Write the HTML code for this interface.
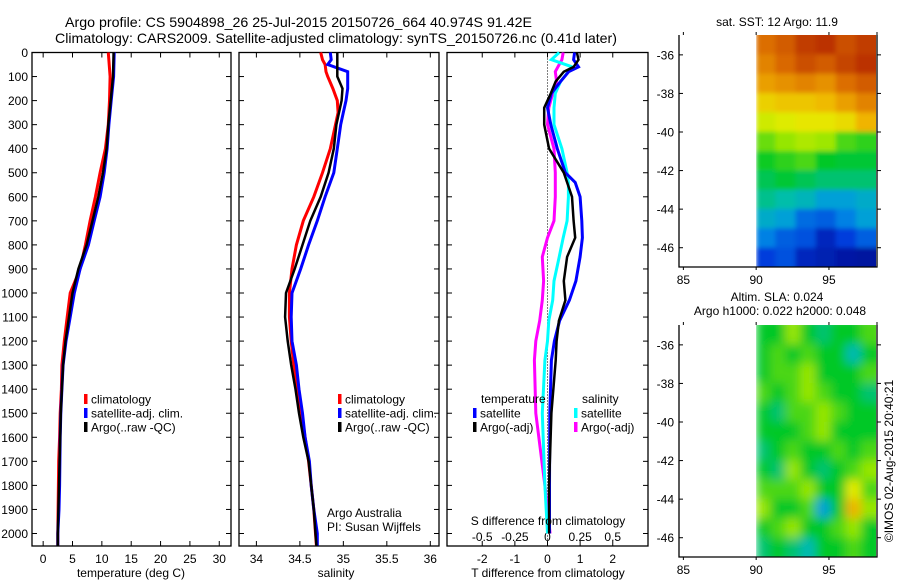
<!DOCTYPE html>
<html><head><meta charset="utf-8"><style>
html,body{margin:0;padding:0;background:#fff}
svg{display:block;font-family:"Liberation Sans",sans-serif}
</style></head><body>
<svg id="fig" width="900" height="580" viewBox="0 0 900 580" xmlns="http://www.w3.org/2000/svg">
<text x="65" y="27" font-size="14" textLength="467" lengthAdjust="spacingAndGlyphs">Argo profile: CS 5904898_26 25-Jul-2015 20150726_664 40.974S 91.42E</text>
<text x="55" y="43" font-size="14" textLength="562" lengthAdjust="spacingAndGlyphs">Climatology: CARS2009. Satellite-adjusted climatology: synTS_20150726.nc (0.41d later)</text>
<g id="plots"></g>
</svg>
<script>
// ---------- data ----------
const depthTicks=[0,100,200,300,400,500,600,700,800,900,1000,1100,1200,1300,1400,1500,1600,1700,1800,1900,2000];
const tempTicks=[0,5,10,15,20,25,30];
const salTicks=[34,34.5,35,35.5,36];
const tdiffTicks=[-2,-1,0,1,2];
const sdiffTicks=[-0.5,-0.25,0,0.25,0.5];
const latTicks=[-36,-38,-40,-42,-44,-46];
const lonTicks=[85,90,95];

const tDepth=[0,100,200,300,400,500,600,700,800,900,1000,1100,1200,1300,1400,1500,1600,1700,1800,1900,2000,2050];
const tClim=[11.1,11.4,11.3,11.1,10.6,9.7,8.9,8.0,7.2,6.3,4.6,4.1,3.6,3.2,3.1,2.9,2.8,2.65,2.6,2.55,2.5,2.5];
const tSat=[12.1,12.0,11.6,11.2,10.9,10.4,9.7,8.7,7.7,6.3,5.3,4.6,3.9,3.4,3.2,3.0,2.9,2.85,2.8,2.7,2.5,2.5];
const tArgo=[12.0,11.9,11.5,11.1,10.8,10.2,9.4,8.4,7.4,6.0,5.0,4.4,3.8,3.4,3.2,3.0,2.9,2.8,2.7,2.6,2.5,2.5];

const sDepth=[0,30,50,80,100,150,200,250,300,400,500,600,700,800,900,1000,1100,1200,1300,1400,1500,1600,1700,1800,1900,2000,2050];
const sClim=[34.74,34.76,34.79,34.80,34.82,34.88,34.93,34.94,34.91,34.85,34.76,34.66,34.54,34.46,34.41,34.38,34.38,34.40,34.43,34.47,34.52,34.56,34.60,34.63,34.66,34.68,34.69];
const sSat=[34.85,34.86,34.82,35.05,35.05,35.05,35.03,35.00,34.97,34.93,34.89,34.79,34.70,34.60,34.51,34.41,34.40,34.41,34.46,34.49,34.53,34.56,34.61,34.63,34.66,34.70,34.70];
const sArgo=[34.93,34.93,34.93,34.93,34.93,34.99,34.98,34.95,34.92,34.89,34.83,34.74,34.62,34.53,34.44,34.34,34.33,34.36,34.40,34.45,34.49,34.54,34.60,34.63,34.66,34.68,34.69];

const dDepth=[0,30,60,80,120,170,230,300,400,500,540,600,700,770,850,950,1030,1115,1200,1280,1500,1800,2000];
const dTSat=[0.83,0.80,0.95,0.65,0.40,0.12,0.0,0.10,0.30,0.55,0.85,1.0,1.05,1.07,1.0,0.87,0.67,0.37,0.21,0.12,0.07,0.06,0.06];
const dTArgo=[0.90,0.95,0.80,0.50,0.25,0.10,-0.10,-0.10,0.05,0.50,0.60,0.75,0.80,0.85,0.60,0.50,0.55,0.35,0.28,0.25,0.12,0.05,0.05];
const dSSat=[0.09,0.03,0.19,0.16,0.10,0.06,0.05,0.05,0.11,0.15,0.16,0.16,0.15,0.12,0.09,0.05,0.04,0.01,0.0,-0.02,-0.04,-0.02,0.0];
const dSArgo=[0.12,0.11,0.08,0.06,0.07,0.04,0.01,0.0,0.05,0.06,0.06,0.06,0.05,0.0,-0.04,-0.03,-0.04,-0.06,-0.09,-0.10,-0.09,-0.02,0.02];

const sstGrid=[
[.85,.88,.93,.95,.90,.93],[.82,.86,.90,.88,.92,.95],[.78,.80,.82,.80,.85,.88],
[.70,.72,.72,.74,.78,.82],[.62,.64,.66,.66,.68,.75],[.52,.55,.58,.56,.50,.48],
[.46,.48,.50,.45,.44,.44],[.42,.44,.42,.40,.40,.40],[.38,.36,.34,.30,.30,.32],
[.32,.30,.22,.20,.25,.30],[.25,.20,.18,.10,.15,.20],[.15,.18,.10,.08,.06,.05]];
const slaGrid=[
[.45,.45,.55,.45,.40,.45,.45,.50],[.45,.50,.45,.50,.45,.45,.35,.45],[.45,.50,.50,.55,.45,.45,.45,.50],
[.50,.45,.50,.55,.50,.45,.45,.40],[.45,.40,.50,.50,.55,.50,.45,.45],[.45,.45,.45,.50,.55,.45,.45,.45],
[.40,.45,.50,.45,.45,.50,.45,.50],[.45,.40,.55,.45,.40,.45,.50,.55],[.50,.50,.50,.55,.45,.45,.65,.50],
[.55,.45,.45,.50,.30,.45,.75,.55],[.45,.50,.55,.45,.45,.50,.55,.45],[.40,.45,.40,.35,.45,.45,.50,.45]];

// ---------- helpers ----------
const NS="http://www.w3.org/2000/svg";
const root=document.getElementById('plots');
function mk(tag,attrs,parent){const e=document.createElementNS(NS,tag);for(const k in attrs)e.setAttribute(k,attrs[k]);(parent||root).appendChild(e);return e;}
function txt(x,y,s,size,anchor,parent){const t=mk('text',{x:x,y:y,'font-size':size,'text-anchor':anchor||'start'},parent);t.textContent=s;return t;}

const yTop=52.5, yBot=546, dMax=2052;
const yD=d=>yTop+d/dMax*(yBot-yTop);
function lin(d0,d1,r0,r1){return v=>r0+(v-d0)/(d1-d0)*(r1-r0);}

function frame(x0,x1,y0,y1,name){
  const r=mk('rect',{x:x0,y:y0,width:x1-x0,height:y1-y0,fill:'none',stroke:'#000','stroke-width':1.3});
  
  
}
function depthTicksFor(x0,x1,labels){
  depthTicks.forEach(d=>{const y=yD(d);
    mk('line',{x1:x0,y1:y,x2:x0+5,y2:y,stroke:'#000'});
    mk('line',{x1:x1,y1:y,x2:x1-5,y2:y,stroke:'#000'});
    if(labels){const t=txt(x0-4,y+4.5,String(d),12,'end');
      
      }
  });
}
function stepLine(xs,ds,xf,color,w,name){
  let p='';
  for(let i=0;i<xs.length;i++){const x=xf(xs[i]),y=yD(ds[i]);p+=(i?'L':'M')+x.toFixed(1)+' '+y.toFixed(1);}
  const e=mk('path',{d:p,fill:'none',stroke:color,'stroke-width':w,'stroke-linejoin':'miter'});
  
  
}
function legendEntry(x,y,color,label,name){
  const g=mk('g',{});
  
  
  mk('rect',{x:x,y:y-5,width:3.5,height:10,fill:color},g);
  txt(x+7,y+4.5,label,12,'start',g);
}

// ---------- panel 1: temperature ----------
const p1={x0:32,x1:231};
const xT=lin(-1.9,32,p1.x0,p1.x1);
frame(p1.x0,p1.x1,yTop,yBot,'temperature-axes');
depthTicksFor(p1.x0,p1.x1,true);
tempTicks.forEach(v=>{const x=xT(v);mk('line',{x1:x,y1:yTop,x2:x,y2:yTop+5,stroke:'#000'});mk('line',{x1:x,y1:yBot,x2:x,y2:yBot-5,stroke:'#000'});
  const t=txt(x,563,String(v),12,'middle');});
{const t=txt(131,577,'temperature (deg C)',12,'middle');}
stepLine(tClim,tDepth,xT,'#ff0000',3,'temperature-climatology-line');
stepLine(tSat,tDepth,xT,'#0000ff',3,'temperature-satellite-line');
stepLine(tArgo,tDepth,xT,'#000000',2.5,'temperature-argo-line');
legendEntry(84,399,'#ff0000','climatology','legend-climatology');
legendEntry(84,413,'#0000ff','satellite-adj. clim.','legend-satellite-adj');
legendEntry(84,427,'#000000','Argo(..raw -QC)','legend-argo');

// ---------- panel 2: salinity ----------
const p2={x0:239,x1:439};
const xS=lin(33.8,36.1,p2.x0,p2.x1);
frame(p2.x0,p2.x1,yTop,yBot,'salinity-axes');
depthTicksFor(p2.x0,p2.x1,false);
salTicks.forEach(v=>{const x=xS(v);mk('line',{x1:x,y1:yTop,x2:x,y2:yTop+5,stroke:'#000'});mk('line',{x1:x,y1:yBot,x2:x,y2:yBot-5,stroke:'#000'});
  const t=txt(x,563,String(v),12,'middle');});
{const t=txt(336,577,'salinity',12,'middle');}
stepLine(sClim,sDepth,xS,'#ff0000',3,'salinity-climatology-line');
stepLine(sSat,sDepth,xS,'#0000ff',3,'salinity-satellite-line');
stepLine(sArgo,sDepth,xS,'#000000',2.5,'salinity-argo-line');
legendEntry(338,399,'#ff0000','climatology','legend-climatology-2');
legendEntry(338,413,'#0000ff','satellite-adj. clim.','legend-satellite-adj-2');
legendEntry(338,427,'#000000','Argo(..raw -QC)','legend-argo-2');
{const t=txt(327,517,'Argo Australia',12);
 const t2=txt(327,531,'PI: Susan Wijffels',12);}

// ---------- panel 3: differences ----------
const p3={x0:447,x1:648};
const xDT=lin(-3.08,3.08,p3.x0,p3.x1);
const xDS=v=>xDT(v*4);
frame(p3.x0,p3.x1,yTop,yBot,'difference-axes');
depthTicksFor(p3.x0,p3.x1,false);
tdiffTicks.forEach(v=>{const x=xDT(v);mk('line',{x1:x,y1:yTop,x2:x,y2:yTop+5,stroke:'#000'});mk('line',{x1:x,y1:yBot,x2:x,y2:yBot-5,stroke:'#000'});
  const t=txt(x,563,String(v),12,'middle');});
sdiffTicks.forEach(v=>{const t=txt(xDS(v),541,String(v),12,'middle');});
mk('line',{x1:xDT(0),y1:yTop,x2:xDT(0),y2:yBot,stroke:'#000','stroke-dasharray':'1,2'});
stepLine(dSArgo,dDepth,xDS,'#ff00ff',3,'sdiff-argo-line');
stepLine(dSSat,dDepth,xDS,'#00ffff',3,'sdiff-satellite-line');
stepLine(dTSat,dDepth,xDT,'#0000ff',3,'tdiff-satellite-line');
stepLine(dTArgo,dDepth,xDT,'#000000',2.5,'tdiff-argo-line');
{const t=txt(548,525,'S difference from climatology',12,'middle');
 const t2=txt(548,577,'T difference from climatology',12,'middle');
 const t3=txt(481,403,'temperature',12);
 const t4=txt(582,403,'salinity',12);}
legendEntry(473,413,'#0000ff','satellite','legend-t-satellite');
legendEntry(473,427,'#000000','Argo(-adj)','legend-t-argo');
legendEntry(574,413,'#00ffff','satellite','legend-s-satellite');
legendEntry(574,427,'#ff00ff','Argo(-adj)','legend-s-argo');

// ---------- maps ----------
const cmapStops=[[0,[0,0,128]],[0.15,[0,60,220]],[0.28,[0,150,230]],[0.36,[0,190,170]],[0.45,[0,200,40]],[0.55,[150,230,0]],[0.65,[230,235,0]],[0.75,[240,180,0]],[0.85,[220,110,0]],[1,[170,20,0]]];
function cmap(v){for(let i=1;i<cmapStops.length;i++){if(v<=cmapStops[i][0]){const a=cmapStops[i-1],b=cmapStops[i];const f=(v-a[0])/(b[0]-a[0]);
  return 'rgb('+a[1].map((c,k)=>Math.round(c+(b[1][k]-c)*f)).join(',')+')';}}return 'rgb(170,20,0)';}
const defs=mk('defs',{});
const flt=mk('filter',{id:'blur',x:'-5%',y:'-5%',width:'110%',height:'110%'},defs);
mk('feGaussianBlur',{stdDeviation:'5'},flt);
const flt2=mk('filter',{id:'blur2',x:'-5%',y:'-5%',width:'110%',height:'110%'},defs);
mk('feGaussianBlur',{stdDeviation:'2.5'},flt2);

function map(y0,grid,title,name,filt){
  const x0=679,x1=877,y1=y0+232;
  const xL=lin(84.7,98.3,x0,x1), yL=lin(-34.97,-47.0,y0,y1);
  const cp=mk('clipPath',{id:'cp'+name},defs);
  mk('rect',{x:xL(90),y:y0,width:x1-xL(90)-1,height:y1-y0},cp);
  const g=mk('g',{'clip-path':'url(#cp'+name+')'});
  
  
  const inner=mk('g',{filter:'url(#'+filt+')'},g);
  const rows=grid.length, cols=grid[0].length;
  const lonStep=(98.3-90)/cols, latStep=(47.0-34.97)/rows;
  grid.forEach((row,r)=>row.forEach((v,c)=>{
    const xa=xL(90+c*lonStep), ya=yL(-34.97-r*latStep);
    const cell=mk('rect',{x:(c===0?xa:xa-1).toFixed(1),y:(r===0?ya-8:ya).toFixed(1),width:(xL(90+(c+1)*lonStep)-xa+(c===cols-1?8:1)+(c===0?0:1)).toFixed(1),height:(yL(-34.97-(r+1)*latStep)-ya+(r===rows-1?8:1)+(r===0?8:0)).toFixed(1),fill:cmap(v)},inner);
    
    
  }));
  mk('polyline',{points:`${x0},${y0} ${x0},${y1} ${x1},${y1} ${x1},${y0}`,fill:'none',stroke:'#000','stroke-width':1.3});
  latTicks.forEach(v=>{const y=yL(v);mk('line',{x1:x0,y1:y,x2:x0+4,y2:y,stroke:'#000'});mk('line',{x1:x1,y1:y,x2:x1+4,y2:y,stroke:'#000'});
    const t=txt(x0-5,y+4.5,String(v),12,'end');});
  lonTicks.forEach(v=>{const x=xL(v);mk('line',{x1:x,y1:y1,x2:x,y2:y1+3,stroke:'#000'});mk('line',{x1:x,y1:y0,x2:x,y2:y0-3,stroke:'#000'});
    const t=txt(x,y1+17,String(v),12,'middle');});
  mk('line',{x1:x1,y1:y0,x2:x1,y2:y0-3,stroke:'#000'});
}
map(35,sstGrid,'sat. SST','sst','blur2');
map(325,slaGrid,'SLA','sla','blur');
{const t=txt(777,26,'sat. SST: 12 Argo: 11.9',12,'middle');
 const t2=txt(777,301,'Altim. SLA: 0.024',12,'middle');
 const t3=txt(780,315,'Argo h1000: 0.022 h2000: 0.048',12,'middle');
 const t4=txt(0,0,'©IMOS 02-Aug-2015 20:40:21',12,'middle');t4.setAttribute('transform','translate(893,461) rotate(-90)');
 }
</script>
</body></html>
